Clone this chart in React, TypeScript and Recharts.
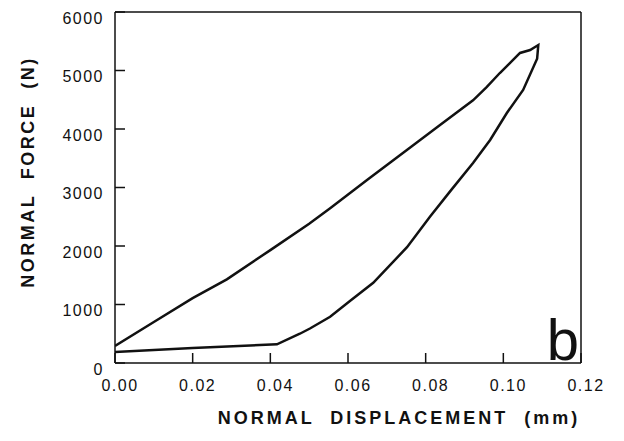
import React from 'react';
import {
  LineChart,
  Line,
  XAxis,
  YAxis,
  ReferenceLine,
  Label,
} from 'recharts';

// loading branch (displacement mm, force N)
const loadingDisp = [0, 0.01, 0.02, 0.0288, 0.04, 0.05, 0.0554, 0.0649, 0.0767, 0.0837, 0.0922, 0.0957, 0.0991, 0.1043, 0.1069, 0.109];
const loadingForce = [290, 700, 1110, 1430, 1930, 2380, 2645, 3128, 3720, 4068, 4490, 4715, 4957, 5300, 5350, 5436];

// unloading branch
const unloadingDisp = [0.1087, 0.1051, 0.1009, 0.0966, 0.0922, 0.0866, 0.0811, 0.0752, 0.0665, 0.0605, 0.0554, 0.0502, 0.0476, 0.0417, 0.02, 0];
const unloadingForce = [5200, 4667, 4274, 3812, 3419, 2960, 2500, 1980, 1370, 1060, 790, 590, 500, 320, 255, 190];

const xTicks = [0, 0.02, 0.04, 0.06, 0.08, 0.1, 0.12];
const yTicks = [0, 1000, 2000, 3000, 4000, 5000, 6000];

const data = [
  ...loadingDisp.map((d, i) => ({ disp: d, force: loadingForce[i] })),
  ...unloadingDisp.map((d, i) => ({ disp: d, force: unloadingForce[i] })),
];

const INK = '#111';
const FONT = '"Liberation Sans", Arial, Helvetica, sans-serif';

const XTick = ({ x, y, payload }: any) => (
  <g>
    <line x1={x} x2={x} y1={y} y2={y - 10} stroke={INK} strokeWidth={1.5} />
    <text
      x={x + 5}
      y={y + 22}
      textAnchor="middle"
      dominantBaseline="central"
      fontFamily={FONT}
      fontSize={16}
      letterSpacing={1.5}
      fill={INK}
    >
      {Number(payload.value).toFixed(2)}
    </text>
  </g>
);

const YTick = ({ x, y, payload }: any) => (
  <g>
    <line x1={x} x2={x + 10} y1={y} y2={y} stroke={INK} strokeWidth={1.5} />
    <text
      x={x - 11}
      y={y + 6}
      textAnchor="end"
      dominantBaseline="central"
      fontFamily={FONT}
      fontSize={16}
      letterSpacing={1.5}
      fill={INK}
    >
      {payload.value}
    </text>
  </g>
);

export default function App() {
  return (
    <div style={{ position: 'absolute', left: 0, top: 0, width: 624, height: 441, background: '#fff' }}>
      <LineChart
        width={624}
        height={441}
        data={data}
        margin={{ top: 12, right: 43, bottom: 48, left: 55 }}
      >
        <XAxis
          dataKey="disp"
          type="number"
          domain={[0, 0.12]}
          ticks={xTicks}
          allowDataOverflow
          height={30}
          tickSize={0}
          tickMargin={0}
          tickLine={false}
          tick={<XTick />}
          stroke={INK}
          strokeWidth={1.5}
        >
          <Label
            content={() => (
              <text
                x={399}
                y={418}
                textAnchor="middle"
                dominantBaseline="central"
                fontFamily={FONT}
                fontSize={18}
                fontWeight="bold"
                letterSpacing={3}
                fill={INK}
                style={{ whiteSpace: 'pre' }}
              >
                NORMAL  DISPLACEMENT  (mm)
              </text>
            )}
          />
        </XAxis>
        <YAxis
          type="number"
          domain={[0, 6000]}
          ticks={yTicks}
          allowDataOverflow
          width={60}
          tickSize={0}
          tickMargin={0}
          tickLine={false}
          tick={<YTick />}
          stroke={INK}
          strokeWidth={1.5}
        >
          <Label
            content={() => (
              <text
                x={28}
                y={172}
                transform="rotate(-90 28 172)"
                textAnchor="middle"
                dominantBaseline="central"
                fontFamily={FONT}
                fontSize={18}
                fontWeight="bold"
                letterSpacing={2.5}
                fill={INK}
                style={{ whiteSpace: 'pre' }}
              >
                NORMAL  FORCE  (N)
              </text>
            )}
          />
        </YAxis>
        <ReferenceLine y={6000} stroke={INK} strokeWidth={1.5} />
        <ReferenceLine x={0.12} stroke={INK} strokeWidth={1.5}>
          <Label
            content={() => (
              <text
                x={579}
                y={360}
                textAnchor="end"
                fontFamily={FONT}
                fontSize={58}
                fill={INK}
              >
                b
              </text>
            )}
          />
        </ReferenceLine>
        <Line
          type="linear"
          dataKey="force"
          stroke={INK}
          strokeWidth={2.5}
          dot={false}
          isAnimationActive={false}
        />
      </LineChart>
    </div>
  );
}
